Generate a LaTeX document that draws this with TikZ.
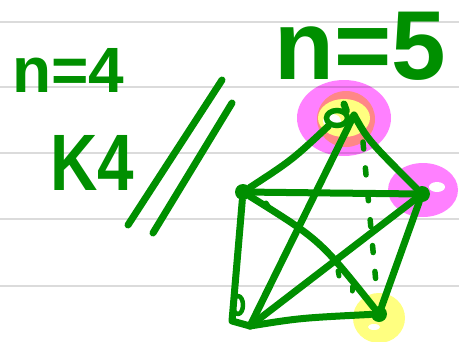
\documentclass[tikz,border=0pt]{standalone}
\usepackage{fontspec}
\newfontfamily\hand{Liberation Sans}
\usetikzlibrary{calc,shapes.geometric}
\definecolor{pen}{RGB}{0,143,0}
\definecolor{hlm}{RGB}{255,128,255}
\definecolor{hls}{RGB}{255,135,135}
\definecolor{hly}{RGB}{255,255,128}
\begin{document}
\begin{tikzpicture}[x=1pt,y=-1pt,
  edge/.style={draw=pen,line width=7pt,line cap=round,line join=round},
  vtx/.style={circle,fill=pen,inner sep=0pt,minimum size=16pt},
  ring/.style={ellipse,draw=pen,line width=5.5pt,inner sep=0pt,minimum width=21pt,minimum height=15pt},
  hand/.style={text=pen,inner sep=0pt,anchor=base west},
  rule/.style={draw=black,opacity=.14,line width=2pt}]
\useasboundingbox (0,0) rectangle (459,341);
\fill[white] (0,0) rectangle (459,341);
% highlights
\fill[hlm] (344,118) ellipse [x radius=47, y radius=38];
\fill[hls] (346,119) ellipse [x radius=29, y radius=28];
\fill[hly] (344,118) ellipse [x radius=26, y radius=19];
\fill[white] (332,121) ellipse [x radius=9, y radius=7];
\fill[hlm] (423,190) ellipse [x radius=35, y radius=27];
\fill[white] (437,187) ellipse [x radius=8, y radius=5];
\fill[hly] (379,318) ellipse [x radius=26, y radius=25];
\fill[white] (374,327) ellipse [x radius=6, y radius=3];
% ruled lines
\foreach \yy in {22,87,153,219,286} \draw[rule] (0,\yy) -- (459,\yy);
% texts
\node[hand,font=\hand\bfseries\fontsize{64}{64}\selectfont] (n4) at (12,92) {n=4};
\node[hand,font=\hand\bfseries\fontsize{80}{80}\selectfont,xscale=.82] (k4) at (50,190) {K4};
\node[hand,font=\hand\bfseries\fontsize{98}{98}\selectfont] (n5) at (274,79) {n=5};
% double slash
\coordinate (s1a) at (128,225); \coordinate (s1b) at (222,80);
\coordinate (s2a) at (153,233); \coordinate (s2b) at (232,103);
\draw[edge] (s1a) -- (s1b);
\draw[edge] (s2a) -- (s2b);
% vertices
\node[ring] (T) at (337,118) {};
\coordinate (Tp) at (354,115);
\coordinate (Tt) at (344,104);
\node[vtx] (L) at (243,192) {};
\node[vtx] (R) at (422,194) {};
\node[vtx] (BR) at (379,314) {};
\coordinate (BL) at (250,326);
\coordinate (BLc) at (232,321);
% edges
\draw[edge] (T.north east) -- (Tt);
\draw[edge] (T) .. controls (292,160) .. (L);
\draw[edge] (Tp) .. controls (368,140) .. (R);
\draw[edge] (Tp) -- (BL);
\draw[edge,line width=5.5pt,dash pattern=on 7pt off 19pt] ($(T)+(26,24)$) -- ($(BR)+(-2,-20)$);
\draw[edge] (L) .. controls (330,193) .. (R);
\draw[edge] (L) .. controls (320,240) .. (BR);
\draw[edge] (L) -- (BLc) -- (BL);
\draw[edge,line width=4.5pt] (238,305) ellipse [x radius=5, y radius=9];
\draw[edge] (R) -- (BL);
\draw[edge] (R) -- (BR);
\draw[edge] (BL) .. controls (300,318) .. (BR);
% small nubs
\draw[edge,line width=5pt] (266,203) -- (268,206);
\draw[edge,line width=5pt] (338,271) -- (339,276);
\draw[edge,line width=5pt] (352,287) -- (352,291);
\end{tikzpicture}
\end{document}
